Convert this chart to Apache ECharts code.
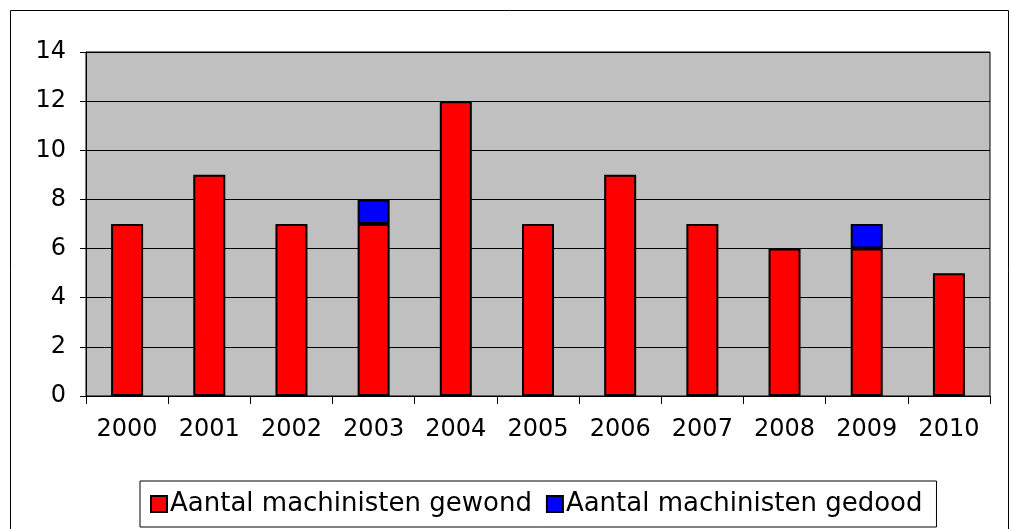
<!DOCTYPE html>
<html>
<head>
<meta charset="utf-8">
<script src="https://cdn.jsdelivr.net/npm/echarts@6/dist/echarts.min.js"></script>
<style>
  html, body { margin: 0; padding: 0; background: #fff; }
  #chart { width: 1011px; height: 529px; }
</style>
</head>
<body>
<div id="chart"></div>
<script>
// jaren en aantallen
const years = ['2000', '2001', '2002', '2003', '2004', '2005', '2006', '2007', '2008', '2009', '2010']
const gewond = [7, 9, 7, 7, 12, 7, 9, 7, 6, 6, 5]
const gedood = [0, 0, 0, 1, 0, 0, 0, 0, 0, 1, 0]

const font = 'Verdana, "DejaVu Sans", sans-serif'

let chart = echarts.init(document.getElementById('chart'))

let option = {
  animation: false,
  textStyle: { fontFamily: font },
  graphic: [
    {
      type: 'rect',
      shape: { x: 10.5, y: 10.5, width: 998, height: 540 },
      style: { fill: 'none', stroke: '#000', lineWidth: 1 },
      z: -1,
    },
  ],
  grid: {
    left: 86,
    right: 21,
    top: 52,
    bottom: 133,
    show: true,
    backgroundColor: '#C0C0C0',
    borderColor: '#000',
    borderWidth: 1,
  },
  legend: {
    left: 140,
    top: 481,
    padding: [10, 14, 10, 10],
    itemGap: 14,
    itemWidth: 16,
    itemHeight: 16,
    borderColor: '#000',
    borderWidth: 1,
    icon: 'rect',
    textStyle: { fontSize: 26, color: '#000', fontFamily: font, padding: [0, 0, 0, -2] },
  },
  xAxis: {
    type: 'category',
    data: years,
    axisLine: { lineStyle: { color: '#000', width: 1 } },
    axisTick: { show: true, length: 8, lineStyle: { color: '#000' } },
    axisLabel: { color: '#000', fontSize: 24, margin: 22, fontFamily: font },
  },
  yAxis: {
    type: 'value',
    min: 0,
    max: 14,
    interval: 2,
    axisLine: { show: true, lineStyle: { color: '#000', width: 1 } },
    axisTick: { show: true, length: 6, lineStyle: { color: '#000' } },
    axisLabel: { color: '#000', fontSize: 24, margin: 20, fontFamily: font },
    splitLine: { show: true, lineStyle: { color: '#000', width: 1 } },
  },
  series: [
    {
      name: 'Aantal machinisten gewond',
      type: 'bar',
      stack: 'totaal',
      barWidth: 32,
      data: gewond,
      itemStyle: { color: '#FF0000', borderColor: '#000', borderWidth: 2 },
    },
    {
      name: 'Aantal machinisten gedood',
      type: 'bar',
      stack: 'totaal',
      barWidth: 32,
      data: gedood.map((v) => (v === 0 ? '-' : v)),
      itemStyle: { color: '#0000FF', borderColor: '#000', borderWidth: 2 },
    },
  ],
}

chart.setOption(option)
</script>
</body>
</html>
